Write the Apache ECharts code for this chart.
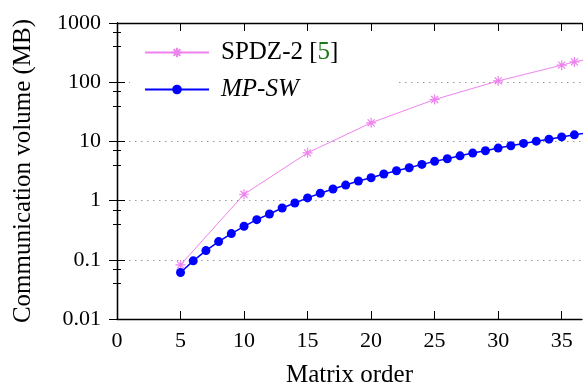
<!DOCTYPE html>
<html>
<head>
<meta charset="utf-8">
<script src="https://cdn.jsdelivr.net/npm/echarts@6/dist/echarts.min.js"></script>
<style>html,body{margin:0;padding:0;background:#fff}#chart{width:583px;height:388px}</style>
</head>
<body>
<div id="chart"></div>
<script>
// matrix order -> communication volume (MB)
const spdzOrders = [5, 10, 15, 20, 25, 30, 35, 36, 37];
const spdzVolume = [0.082, 1.28, 6.4, 20.6, 51, 105, 194, 220, 245];

const mpswOrders = [5, 6, 7, 8, 9, 10, 11, 12, 13, 14, 15, 16, 17, 18, 19, 20, 21,
  22, 23, 24, 25, 26, 27, 28, 29, 30, 31, 32, 33, 34, 35, 36, 37];
const mpswVolume = [0.061, 0.096, 0.143, 0.203, 0.277, 0.368, 0.476, 0.594, 0.75, 0.91,
  1.11, 1.33, 1.57, 1.83, 2.14, 2.43, 2.81, 3.19, 3.59, 4.09, 4.6, 5.09, 5.71, 6.35,
  6.94, 7.71, 8.43, 9.25, 10.1, 10.9, 11.9, 12.9, 14.0];

const font = "'Liberation Serif', serif";
const asterisk = "path://M-5,0L5,0M0,-5L0,5M-3.5,-3.5L3.5,3.5M-3.5,3.5L3.5,-3.5";
const frame = { show: true, lineStyle: { color: "#000", width: 1.3 } };
const tickIn = { show: true, inside: true, length: 8, lineStyle: { color: "#000" } };

const chart = echarts.init(document.getElementById("chart"), null, { renderer: "canvas" });
chart.setOption({
  animation: false,
  grid: { left: 117, right: 1, top: 23, bottom: 69, outerBoundsMode: "none", containLabel: false },
  legend: {
    data: ["SPDZ-2 [5]", "MP-SW"],
    orient: "vertical",
    left: 130, top: 32,
    padding: [8, 58, 8, 14],
    backgroundColor: "#fff",
    itemWidth: 64, itemHeight: 12, itemGap: 12,
    textStyle: { fontFamily: font, fontSize: 25, color: "#000", lineHeight: 25, padding: [0, 0, 0, 7],
      rich: {
        g: { fontFamily: font, fontSize: 25, color: "#1a7a1a" },
        i: { fontFamily: font, fontSize: 25, fontStyle: "italic", color: "#000" },
      } },
    formatter: name => name === "MP-SW" ? "{i|MP}-{i|SW}" : "SPDZ-2 [{g|5}]",
  },
  xAxis: [
    { type: "value", min: 0, max: 36.6, interval: 5, name: "Matrix order", nameLocation: "middle", nameGap: 44,
      nameTextStyle: { fontFamily: font, fontSize: 25, color: "#000" },
      axisLine: frame, axisTick: tickIn, splitLine: { show: false },
      axisLabel: { fontFamily: font, fontSize: 22, color: "#000", margin: 11, showMaxLabel: false } },
    { type: "value", position: "top", min: 0, max: 36.6, interval: 5,
      axisLine: frame, axisTick: tickIn, axisLabel: { show: false }, splitLine: { show: false } },
  ],
  yAxis: [
    { type: "log", min: 0.01, max: 1000, logBase: 10, name: "Communication volume (MB)", nameLocation: "middle", nameGap: 81,
      nameTextStyle: { fontFamily: font, fontSize: 25, color: "#000" },
      axisLine: frame, axisTick: tickIn,
      minorTick: { show: true, splitNumber: 3, length: 4, lineStyle: { color: "#000" } },
      axisLabel: { fontFamily: font, fontSize: 22, color: "#000", margin: 16, formatter: v => String(Number(v.toPrecision(2))) },
      splitLine: { show: true, lineStyle: { color: "#999", width: 1, type: [1.5, 4.5] } } },
    { type: "log", position: "right", min: 0.01, max: 1000, logBase: 10,
      axisLine: frame, axisTick: tickIn,
      minorTick: { show: true, splitNumber: 3, length: 4, lineStyle: { color: "#000" } },
      axisLabel: { show: false }, splitLine: { show: false } },
  ],
  series: [
    { name: "SPDZ-2 [5]", type: "line", data: spdzOrders.map((x, i) => [x, spdzVolume[i]]),
      symbol: asterisk, symbolSize: 10,
      lineStyle: { color: "violet", width: 1 },
      itemStyle: { color: "violet", borderColor: "violet", borderWidth: 1.2 } },
    { name: "MP-SW", type: "line", data: mpswOrders.map((x, i) => [x, mpswVolume[i]]),
      symbol: "circle", symbolSize: 9,
      lineStyle: { color: "#0000ff", width: 1.5 },
      itemStyle: { color: "#0000ff", borderWidth: 0 } },
  ],
});
</script>
</body>
</html>
